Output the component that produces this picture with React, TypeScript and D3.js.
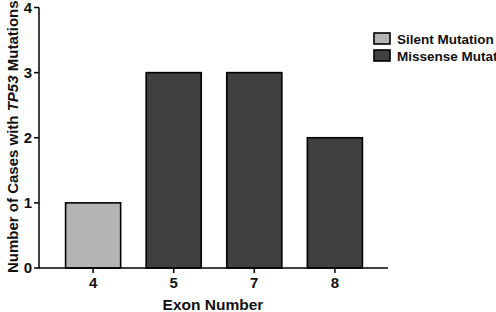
import React from "react";
import * as d3 from "d3";

const categories = ["4", "5", "7", "8"];
const values = [1, 3, 3, 2];
const types = ["Silent Mutation", "Missense Mutation", "Missense Mutation", "Missense Mutation"];
const legendItems = ["Silent Mutation", "Missense Mutation"];
const yTicks = [0, 1, 2, 3, 4];

const W = 496;
const H = 312;
const colors: Record<string, string> = {
  "Silent Mutation": "#b4b4b4",
  "Missense Mutation": "#404040",
};

export default function App() {
  const x = d3.scaleBand<string>().domain(categories).range([39, 389]).paddingInner(0.317).paddingOuter(0.33);
  const y = d3.scaleLinear().domain([0, 4]).range([268, 7.5]);
  const font = "'Liberation Sans', Arial, sans-serif";
  return (
    <svg width={W} height={H} style={{ position: "absolute", left: 0, top: 0, background: "#fff" }} fontFamily={font}>
      {categories.map((c, i) => (
        <rect
          key={c}
          x={x(c)!}
          y={y(values[i])}
          width={x.bandwidth()}
          height={y(0) - y(values[i])}
          fill={colors[types[i]]}
          stroke="#000"
          strokeWidth={1.6}
        />
      ))}
      {/* y axis */}
      <line x1={39} x2={39} y1={y(4)} y2={y(0)} stroke="#000" strokeWidth={1.5} />
      {yTicks.map((t) => (
        <g key={t}>
          <line x1={34} x2={39} y1={y(t)} y2={y(t)} stroke="#000" strokeWidth={1.5} />
          <text x={32} y={y(t)} dy="0.36em" textAnchor="end" fontSize={15} fontWeight="bold" fill="#111">
            {t}
          </text>
        </g>
      ))}
      {/* x axis */}
      <line x1={39} x2={388} y1={y(0)} y2={y(0)} stroke="#000" strokeWidth={1.5} />
      {categories.map((c) => (
        <g key={c}>
          <line x1={x(c)! + x.bandwidth() / 2} x2={x(c)! + x.bandwidth() / 2} y1={268} y2={273} stroke="#000" strokeWidth={1.5} />
          <text x={x(c)! + x.bandwidth() / 2} y={288} textAnchor="middle" fontSize={15} fontWeight="bold" fill="#111">
            {c}
          </text>
        </g>
      ))}
      <text x={213} y={310} textAnchor="middle" fontSize={15.5} fontWeight="bold" fill="#111">
        Exon Number
      </text>
      <text transform="translate(17.5,273) rotate(-90)" textAnchor="start" fontSize={15} fontWeight="bold" fill="#111">
        Number of Cases with <tspan fontStyle="italic">TP53</tspan> Mutations
      </text>
      {/* legend */}
      {legendItems.map((l, i) => (
        <g key={l}>
          <rect x={374} y={33 + i * 17} width={16} height={11} fill={colors[l]} stroke="#000" strokeWidth={1.6} />
          <text x={397} y={44 + i * 17} fontSize={13.5} fontWeight="bold" fill="#111">
            {l}
          </text>
        </g>
      ))}
    </svg>
  );
}
